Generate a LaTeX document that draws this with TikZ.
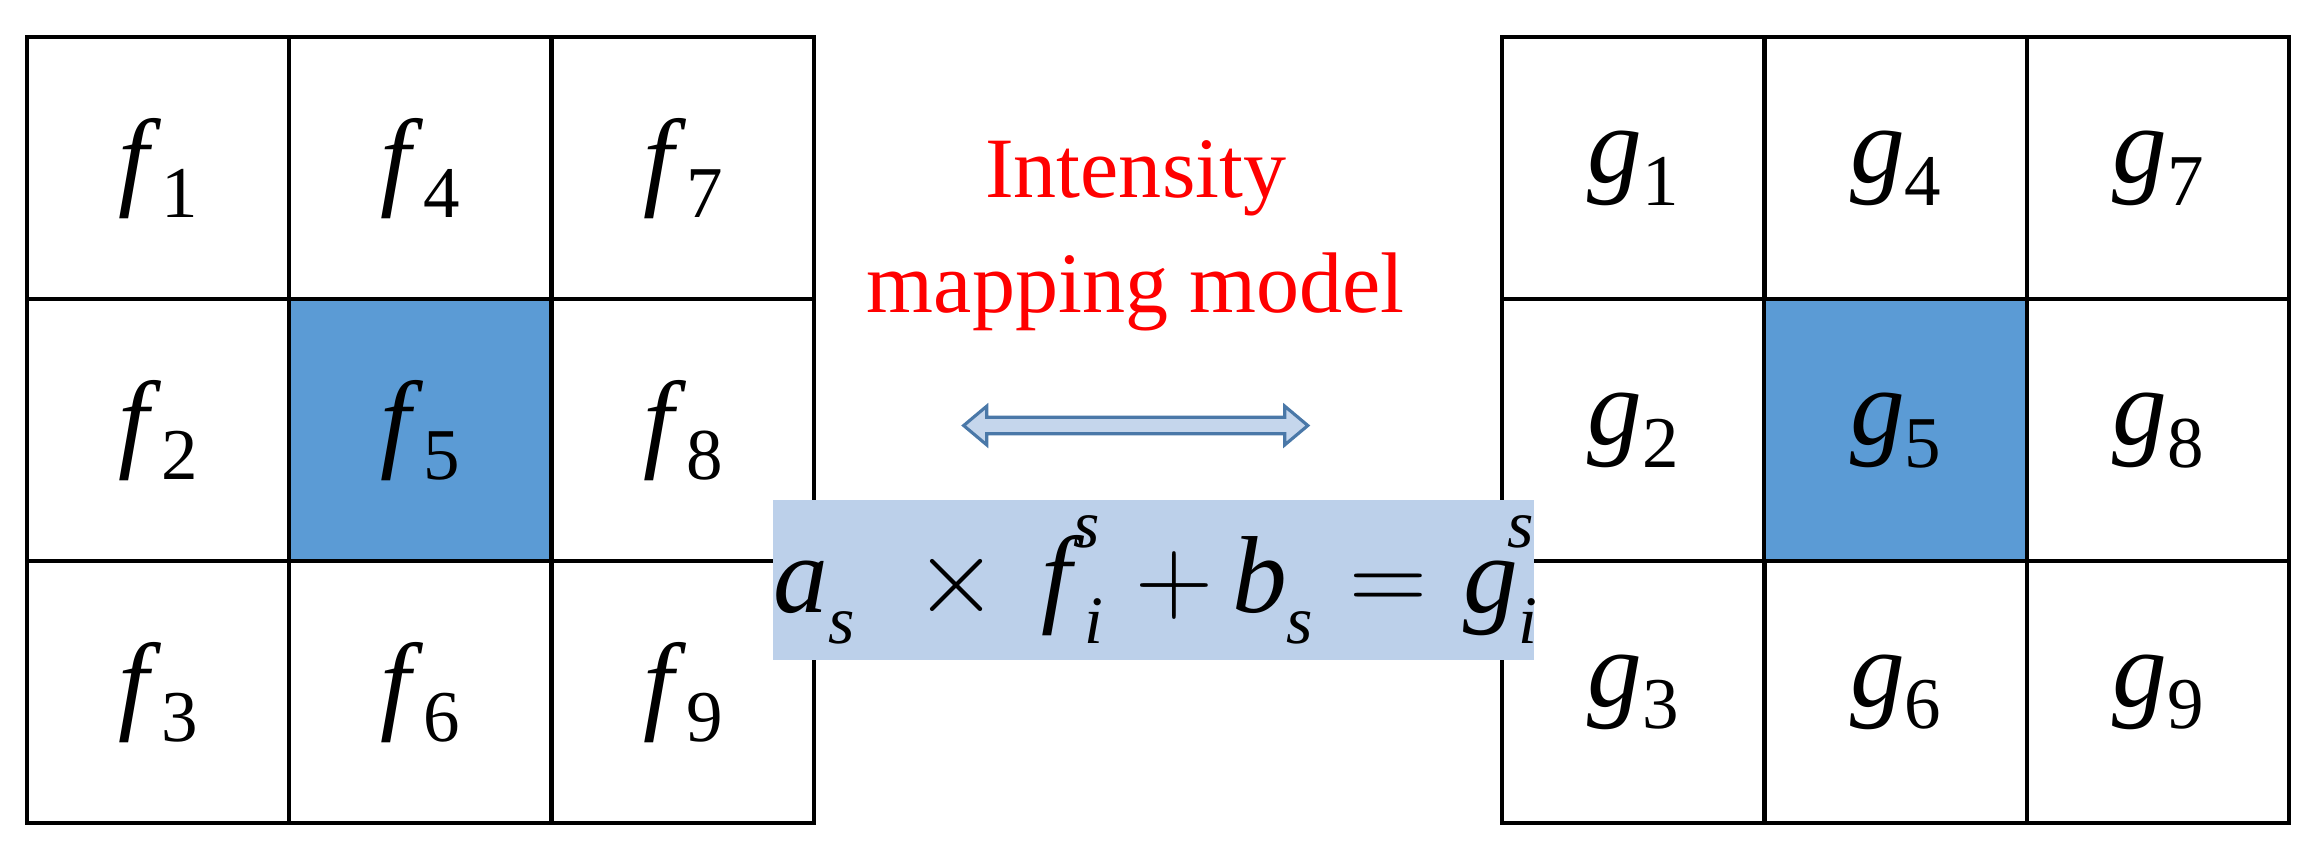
\documentclass[tikz,border=0pt]{standalone}
\usepackage{fontspec}
\setmainfont{Liberation Serif}
\usetikzlibrary{positioning, shapes.arrows}

\definecolor{blue5}{HTML}{5B9BD5}
\definecolor{arrowline}{HTML}{4A78A8}
\definecolor{arrowfill}{HTML}{C5D6EC}
\definecolor{eqfill}{HTML}{BCD0EA}

\newcommand{\lbl}[2]{\textit{#1}\raisebox{-0.45ex}{\fontsize{14}{14}\selectfont #2}}
\newcommand{\sbs}[1]{\raisebox{-0.6ex}{\fontsize{13}{13}\selectfont\textit{#1}}}
\newcommand{\sps}[1]{\raisebox{1.3ex}{\fontsize{13}{13}\selectfont\textit{#1}}}

\begin{document}
\begin{tikzpicture}[
    x=0.01cm, y=0.01cm,
    every node/.style={font=\fontsize{21}{24}\selectfont},
    cell/.style={rectangle, draw=black, line width=0.8pt, minimum width=1.77cm, minimum height=1.767cm, inner sep=0pt},
    hot/.style={cell, fill=blue5},
    model/.style={text=red, align=center, font=\fontsize{16.5}{22}\selectfont},
    link/.style={double arrow, draw=arrowline, fill=arrowfill, line width=0.6pt, minimum height=2.32cm, inner xsep=0pt, inner ysep=0.045cm, double arrow head extend=0.075cm, double arrow tip angle=80},
    eqbox/.style={rectangle, fill=eqfill, minimum width=5.03cm, minimum height=1.08cm, inner sep=0pt}
]

\useasboundingbox (0,0) rectangle (1560,575);

% Grids
\foreach \i in {0,1,2}{
  \foreach \j in {0,1,2}{
    \pgfmathtruncatemacro{\k}{3*\i+\j+1}
    \ifnum\k=5
      \node[hot] (f\k) at (106.5+177*\i, 461.5-176.7*\j) {\lbl{f}{\k}};
      \node[hot] (g\k) at (1101.5+177*\i, 461.5-176.7*\j) {\lbl{g}{\k}};
    \else
      \node[cell] (f\k) at (106.5+177*\i, 461.5-176.7*\j) {\lbl{f}{\k}};
      \node[cell] (g\k) at (1101.5+177*\i, 461.5-176.7*\j) {\lbl{g}{\k}};
    \fi
  }
}

% Model
\node[model] (title) at (766,416) {Intensity\\mapping model};
\node[link] (map) at (766,288) {};
\node[eqbox] (eq) at (778,391-575+575-207) {\textit{a}\sbs{s}\,\,${}\times{}$\,\textit{f}\sbs{i}\hspace{-0.6ex}\sps{s}\,\,$+$\,\textit{b}\sbs{s}\,\,$=$\,\,\textit{g}\sbs{i}\hspace{-0.6ex}\sps{s}};

\end{tikzpicture}
\end{document}
